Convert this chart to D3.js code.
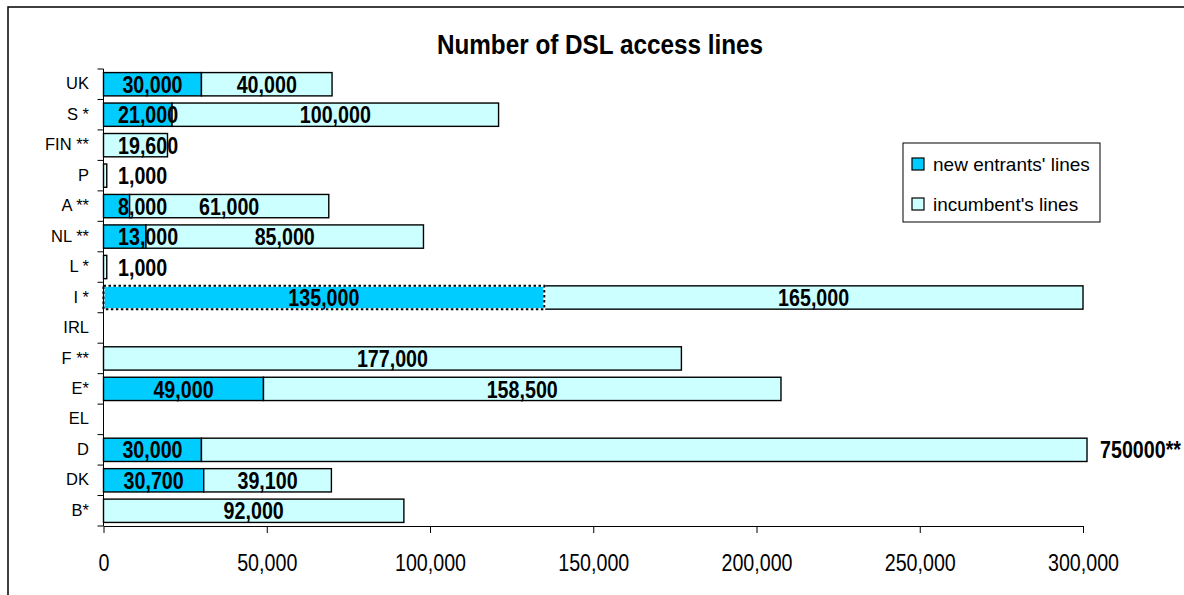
<!DOCTYPE html>
<html><head><meta charset="utf-8">
<script src="https://cdn.jsdelivr.net/npm/d3@7"></script>
<style>body{margin:0;background:#fff} svg{display:block}</style>
</head><body><svg id="c" width="1184" height="595"></svg>
<script>
const categories = ["UK","S *","FIN **","P","A **","NL **","L *","I *","IRL","F **","E*","EL","D","DK","B*"];
const newEntrants = [30000,21000,0,0,8000,13000,0,135000,0,0,49000,0,30000,30700,0];
const incumbent = [40000,100000,19600,1000,61000,85000,1000,165000,0,177000,158500,0,750000,39100,92000];
const incumbentNotes = ["","","","","","","","","","","","","**","",""];
const dottedNew = ["I *"];
const xTicks = [0,50000,100000,150000,200000,250000,300000];
const seriesNames = ["new entrants' lines","incumbent's lines"];
const colors = ["#00CCFF","#CCFFFF"];
const title = "Number of DSL access lines";

const FONT = "'Liberation Sans',Arial,sans-serif";
const NX = 0.82; // horizontal squeeze to imitate a narrow face

const svg = d3.select("#c");
const x = d3.scaleLinear().domain([0,300000]).range([103.5,1083]);
const y = d3.scaleBand().domain(categories).range([69,526]).paddingInner(0.235).paddingOuter(0.1175);

// outer frame
svg.append("path").attr("d","M8,595V7H1184").attr("fill","none").attr("stroke","#000").attr("stroke-width",1.5);

// title
svg.append("g").attr("transform","translate(600,54.3) scale(0.9,1)")
  .append("text").attr("text-anchor","middle")
  .style("font-family",FONT).style("font-weight","bold").style("font-size","27px").text(title);

// segments
const segs = [];
categories.forEach((c,i)=>{
  const n = newEntrants[i], inc = incumbent[i];
  if(n>0) segs.push({c, s:0, v0:0, v1:n, label:d3.format(",")(n)});
  if(inc>0) segs.push({c, s:1, v0:n, v1:n+inc, label: incumbentNotes[i] ? d3.format("d")(inc)+incumbentNotes[i] : d3.format(",")(inc)});
});
const xmax = x.range()[1];
const clampX = v => Math.min(x(v), xmax+4);

svg.append("g").selectAll("rect").data(segs).join("rect")
  .attr("x",d=>x(d.v0)).attr("y",d=>y(d.c))
  .attr("width",d=>clampX(d.v1)-x(d.v0)).attr("height",y.bandwidth())
  .attr("fill",d=>colors[d.s]).attr("stroke","#000").attr("stroke-width",1.4);
// dotted outline for flagged new-entrant segments
svg.append("g").selectAll("rect").data(segs.filter(d=>d.s===0 && dottedNew.includes(d.c))).join("rect")
  .attr("x",d=>x(d.v0)).attr("y",d=>y(d.c))
  .attr("width",d=>x(d.v1)-x(d.v0)).attr("height",y.bandwidth())
  .attr("fill",colors[0]).attr("stroke","#fff").attr("stroke-width",2);
svg.append("g").selectAll("rect").data(segs.filter(d=>d.s===0 && dottedNew.includes(d.c))).join("rect")
  .attr("x",d=>x(d.v0)).attr("y",d=>y(d.c))
  .attr("width",d=>x(d.v1)-x(d.v0)).attr("height",y.bandwidth())
  .attr("fill","none").attr("stroke","#000").attr("stroke-width",2).attr("stroke-dasharray","2.5,2.5");

// axes
const gx = svg.append("g").attr("transform",`translate(0,${y.range()[1]})`)
  .call(d3.axisBottom(x).tickValues(xTicks).tickSize(7).tickSizeOuter(0).tickFormat(d3.format(",")));
gx.select(".domain").attr("stroke","#000");
gx.selectAll(".tick line").attr("stroke","#000");
gx.selectAll(".tick text").attr("y",44.7).attr("dy",0).attr("fill","#000")
  .attr("transform",`scale(${NX},1)`)
  .style("font-family",FONT).style("font-size","24px");

const step = y.step();
const bounds = categories.map(c=>y(c)-step*y.paddingInner()/2).concat([y(categories[categories.length-1])+y.bandwidth()+step*y.paddingInner()/2]);
svg.append("line").attr("x1",x(0)).attr("x2",x(0)).attr("y1",bounds[0]).attr("y2",y.range()[1]).attr("stroke","#000");
svg.append("g").selectAll("line").data(bounds).join("line")
  .attr("x1",x(0)-6).attr("x2",x(0)).attr("y1",d=>d).attr("y2",d=>d).attr("stroke","#000");
svg.append("g").selectAll("text").data(categories).join("text")
  .attr("x",x(0)-14.5).attr("y",d=>y(d)+y.bandwidth()/2).attr("dy","0.31em").attr("text-anchor","end")
  .style("font-family",FONT).style("font-size","16.5px").text(d=>d);

// bar labels (squeezed bold)
const lg0 = svg.append("g").selectAll("g").data(segs).join("g");
lg0.each(function(d){
  const g = d3.select(this);
  const t = g.append("text").attr("dy","0.36em")
    .style("font-family",FONT).style("font-weight","bold").style("font-size","24px").text(d.label);
  const w = t.node().getComputedTextLength()*NX;
  const cy = y(d.c)+y.bandwidth()/2;
  if(x(d.v1) > xmax){
    t.attr("text-anchor","start");
    g.attr("transform",`translate(${xmax+17},${cy}) scale(${NX},1)`);
  } else {
    const cx = Math.max((x(d.v0)+x(d.v1))/2, x(0)+14.5+w/2);
    t.attr("text-anchor","middle");
    g.attr("transform",`translate(${cx},${cy}) scale(${NX},1)`);
  }
});

// legend
const lg = svg.append("g");
lg.append("rect").attr("x",903).attr("y",143).attr("width",197).attr("height",79).attr("fill","#fff").attr("stroke","#000");
seriesNames.forEach((s,i)=>{
  lg.append("rect").attr("x",912).attr("y",158+i*40).attr("width",12).attr("height",12)
    .attr("fill",colors[i]).attr("stroke","#000").attr("stroke-width",1.2);
  lg.append("text").attr("x",933).attr("y",171+i*40).style("font-family",FONT).style("font-size","19px").text(s);
});
</script></body></html>
